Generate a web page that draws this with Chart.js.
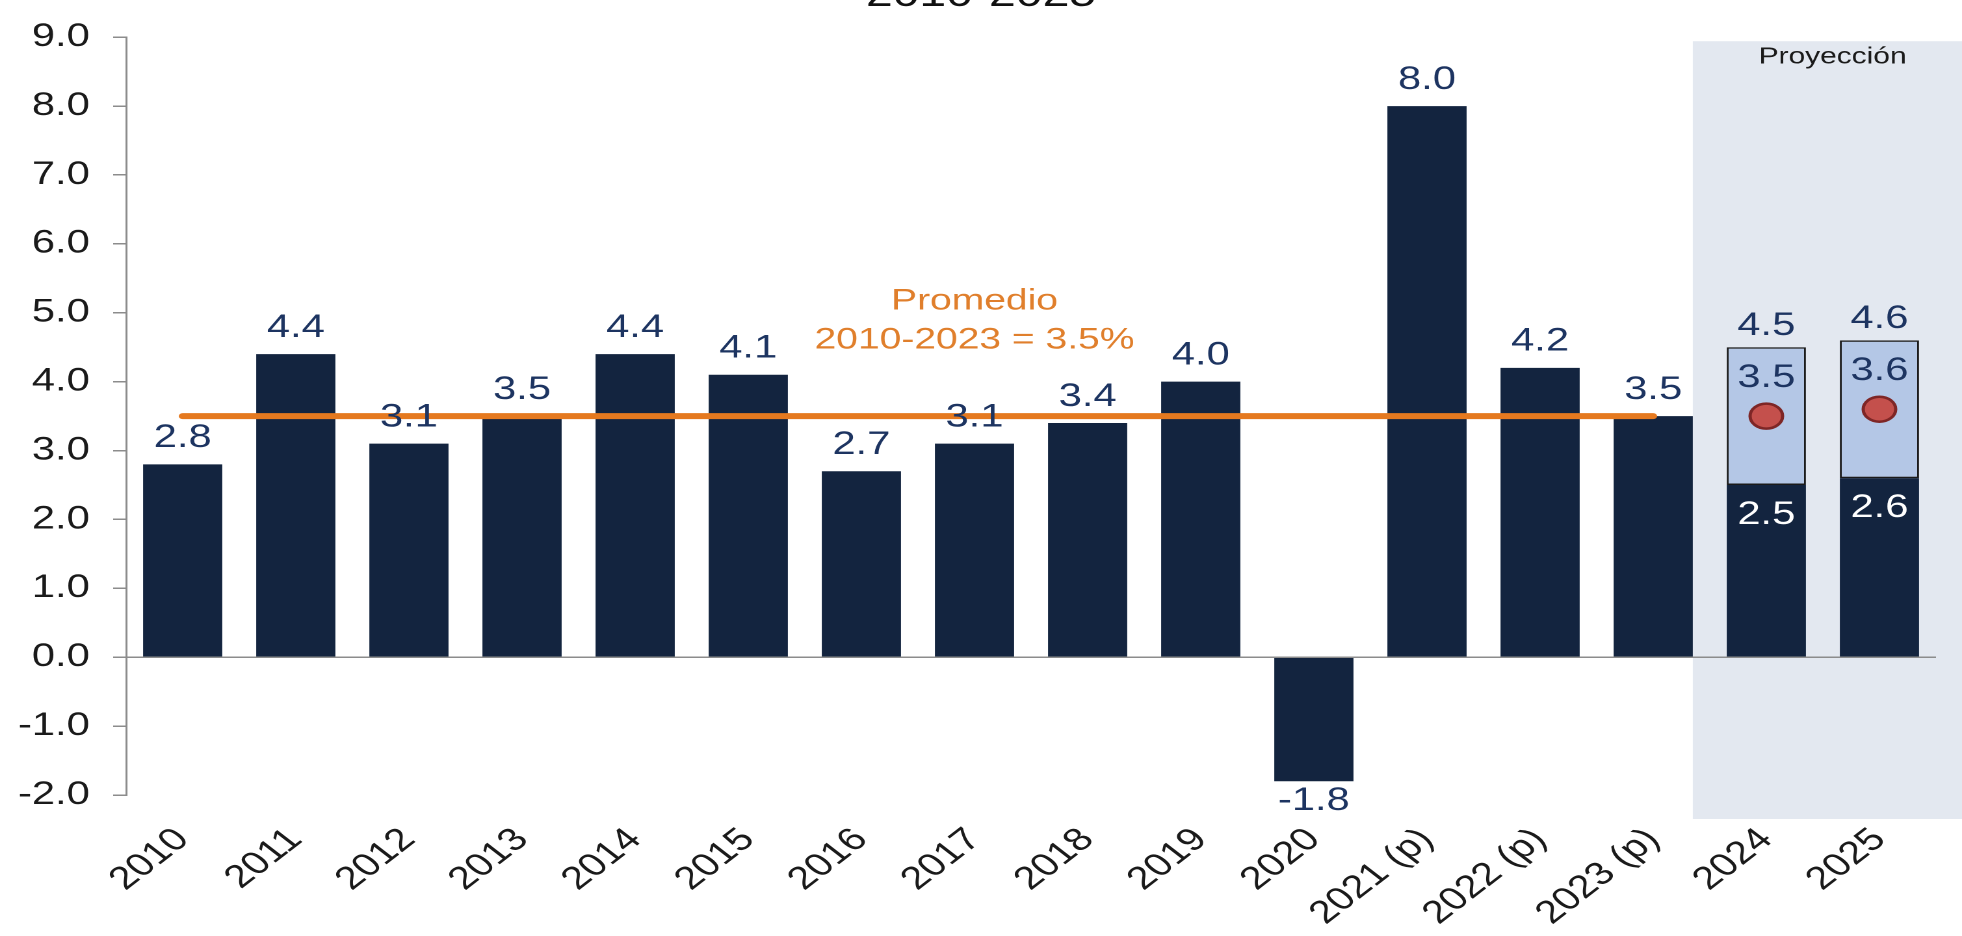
<!DOCTYPE html>
<html>
<head>
<meta charset="utf-8">
<script src="https://cdn.jsdelivr.net/npm/chart.js@4.4.1/dist/chart.umd.min.js"></script>
<style>
  html, body { margin: 0; padding: 0; background: #ffffff; overflow: hidden; }
  #wrap { position: absolute; left: 0; top: 0; width: 1509px; height: 936px;
          transform: scaleX(1.3002); transform-origin: 0 0; }
</style>
</head>
<body>
<div id="wrap"><canvas id="c"></canvas></div>
<script>
// ---- data ----
const categories = ['2010','2011','2012','2013','2014','2015','2016','2017','2018','2019','2020','2021 (p)','2022 (p)','2023 (p)','2024','2025'];
const growth     = [2.8, 4.4, 3.1, 3.5, 4.4, 4.1, 2.7, 3.1, 3.4, 4.0, -1.8, 8.0, 4.2, 3.5, 2.5, 2.6];
const rangeLow   = [null,null,null,null,null,null,null,null,null,null,null,null,null,null, 2.5, 2.6];
const rangeHigh  = [null,null,null,null,null,null,null,null,null,null,null,null,null,null, 4.5, 4.6];
const central    = [null,null,null,null,null,null,null,null,null,null,null,null,null,null, 3.5, 3.6];
const averageValue = 3.5;
const averageLabel = ['Promedio', '2010-2023 = 3.5%'];
const averageYears = ['2010','2011','2012','2013','2014','2015','2016','2017','2018','2019','2020','2021 (p)','2022 (p)','2023 (p)'];
const projectionLabel = 'Proyección';
const titleText = '2010-2025';
const yMin = -2, yMax = 9, yStep = 1;

// ---- styles ----
const FONT = '"Liberation Sans", Arial, sans-serif';
const NAVY = '#13243f';
const NAVY_TEXT = '#1d3461';
const LIGHT = '#b4c7e6';
const ORANGE = '#e5791f';
const ORANGE_TEXT = '#e07f2c';
const SHADE = '#e3e8f0';
const AXIS = '#8c8c8c';

const fmt = v => v.toFixed(1);
const rangeData = categories.map((c, i) => rangeHigh[i] == null ? null : [rangeLow[i], rangeHigh[i]]);
const avgData = categories.map(c => averageYears.includes(c) ? averageValue : null);
const lastHist = averageYears.length - 1;

const shadePlugin = {
  id: 'shade',
  beforeDraw(chart) {
    const { ctx, scales: { x, y } } = chart;
    const bar = chart.getDatasetMeta(0).data[lastHist];
    const left = bar.x + bar.width / 2;
    ctx.save();
    ctx.fillStyle = SHADE;
    ctx.fillRect(left, y.top + 4, chart.width - left, y.bottom + 24 - (y.top + 4));
    ctx.fillStyle = '#1a1a1a';
    ctx.font = '23px ' + FONT;
    ctx.textAlign = 'center';
    ctx.textBaseline = 'middle';
    ctx.fillText(projectionLabel, (left + chart.width) / 2 + 4, 57);
    // title (cut at top of picture)
    ctx.fillStyle = '#111111';
    ctx.font = '37px ' + FONT;
    ctx.textBaseline = 'alphabetic';
    ctx.fillText(titleText, chart.width / 2, 6);
    ctx.restore();
  }
};

const labelPlugin = {
  id: 'valueLabels',
  afterDatasetsDraw(chart) {
    const { ctx, scales: { x, y } } = chart;
    ctx.save();
    ctx.font = '32px ' + FONT;
    ctx.textAlign = 'center';
    ctx.textBaseline = 'middle';
    growth.forEach((v, i) => {
      const px = x.getPixelForValue(i);
      const py = y.getPixelForValue(v);
      if (rangeHigh[i] != null) {
        ctx.fillStyle = '#ffffff';
        ctx.fillText(fmt(v), px, py + 30);
        ctx.fillStyle = NAVY_TEXT;
        ctx.fillText(fmt(rangeHigh[i]), px, y.getPixelForValue(rangeHigh[i]) - 21);
        ctx.fillText(fmt(central[i]), px, y.getPixelForValue(central[i]) - 38);
      } else {
        ctx.fillStyle = NAVY_TEXT;
        if (v >= 0) ctx.fillText(fmt(v), px, py - 26);
        else ctx.fillText(fmt(v), px, py + 20);
      }
    });
    // average annotation
    const ax = x.getPixelForValue(7);
    const ay = y.getPixelForValue(averageValue);
    ctx.fillStyle = ORANGE_TEXT;
    ctx.font = '30px ' + FONT;
    ctx.fillText(averageLabel[0], ax, ay - 115);
    ctx.fillText(averageLabel[1], ax, ay - 76);
    ctx.restore();
  }
};

new Chart(document.getElementById('c'), {
  data: {
    labels: categories,
    datasets: [
      { type: 'bar', data: growth, backgroundColor: NAVY, borderWidth: 0,
        grouped: false, barPercentage: 0.7, categoryPercentage: 1.0, order: 3 },
      { type: 'bar', data: rangeData, backgroundColor: LIGHT, borderColor: '#1b1b1b',
        borderWidth: 1.5, borderSkipped: false,
        grouped: false, barPercentage: 0.7, categoryPercentage: 1.0, order: 2 },
      { type: 'line', data: avgData, borderColor: ORANGE, borderWidth: 6,
        borderCapStyle: 'round', pointRadius: 0, fill: false, spanGaps: false, order: 1 },
      { type: 'line', data: central, showLine: false, pointRadius: 12.5,
        pointBackgroundColor: '#c4504c', pointBorderColor: '#7e2626', pointBorderWidth: 2.5, order: 0 }
    ]
  },
  options: {
    responsive: true,
    maintainAspectRatio: false,
    devicePixelRatio: 2,
    animation: false,
    events: [],
    layout: { padding: { top: 24, right: 20, left: 0, bottom: 0 } },
    plugins: { legend: { display: false }, tooltip: { enabled: false }, title: { display: false } },
    scales: {
      x: {
        grid: { display: false },
        border: { display: false },
        ticks: { autoSkip: false, minRotation: 45, maxRotation: 45, padding: 18,
                 color: '#1a1a1a', font: { family: FONT, size: 32 } },
        afterFit(s) { s.height = 141; }
      },
      y: {
        min: yMin, max: yMax,
        ticks: { stepSize: yStep, callback: v => fmt(v), padding: 18,
                 color: '#1a1a1a', font: { family: FONT, size: 32 } },
        grid: { drawOnChartArea: true, lineWidth: 1.5, tickLength: 10, tickColor: AXIS,
                color: c => (c.tick && c.tick.value === 0) ? AXIS : 'rgba(0,0,0,0)' },
        border: { color: AXIS, width: 1.5 },
        afterFit(s) { s.width = 97; }
      }
    }
  },
  plugins: [shadePlugin, labelPlugin]
});
</script>
</body>
</html>
